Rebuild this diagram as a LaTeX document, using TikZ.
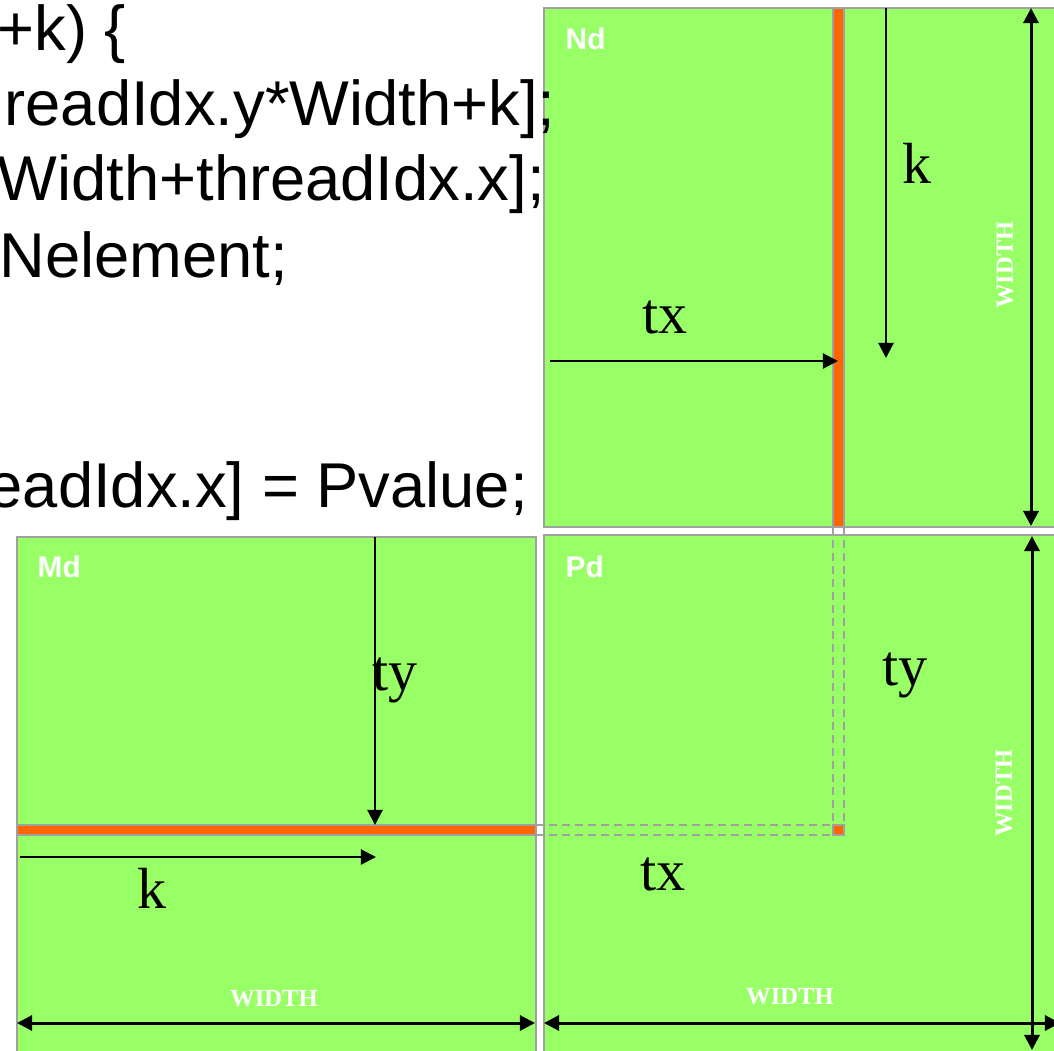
\documentclass[tikz,border=0pt]{standalone}
\usepackage{fontspec}
\setmainfont{Liberation Serif}
\setsansfont{Liberation Sans}
\usetikzlibrary{arrows.meta}

\definecolor{matgreen}{RGB}{153,255,102}
\definecolor{rowred}{RGB}{255,102,0}
\definecolor{edgegray}{RGB}{160,160,160}

\begin{document}
\begin{tikzpicture}
	    [x=0.01cm, y=-0.01cm,
	     mat/.style={fill=matgreen, draw=edgegray, line width=0.75pt},
	     strip/.style={fill=rowred, draw=edgegray, line width=0.75pt},
	     guide/.style={draw=edgegray, line width=0.6pt, dash pattern=on 2.3pt off 1.4pt},
	     idx/.style={-{Triangle[length=4.3pt, width=4.3pt]}, line width=0.6pt},
	     dim/.style={{Triangle[length=4.3pt, width=4.3pt]}-{Triangle[length=4.3pt, width=4.3pt]}, line width=0.85pt},
	     code/.style={font=\sffamily\fontsize{18}{18}\selectfont, anchor=base west, inner sep=0pt},
	     var/.style={font=\fontsize{16.5}{16.5}\selectfont, anchor=base, inner sep=0pt},
	     mname/.style={font=\sffamily\bfseries\fontsize{8.5}{8.5}\selectfont, text=white, anchor=base west, inner sep=0pt},
	     wlabel/.style={font=\bfseries\fontsize{7}{7}\selectfont, text=white, inner sep=0pt}]
	    \useasboundingbox (0,0) rectangle (1054,1051);
	    % matrices
	    \draw[mat] (544,8) rectangle (1080,527);
	    \draw[mat] (17,537) rectangle (536,1080);
	    \draw[mat] (544,535) rectangle (1080,1080);
	    \draw[strip] (833,8) rectangle (844,527);
	    \draw[strip] (17,825) rectangle (536,835);
	    \draw[guide] (833,527) -- (833,825);
	    \draw[guide] (844,527) -- (844,825);
	    \draw[guide] (536,825) -- (833,825);
	    \draw[guide] (536,835) -- (833,835);
	    \draw[strip] (833,825) rectangle (844,835);
	    % code lines
	    \node[code] (code1) at (-3,50)   {+k) \{};
	    \node[code] (code2) at (4,125)   {readIdx.y*Width+k];};
	    \node[code] (code3) at (-3,200)  {Width+threadIdx.x];};
	    \node[code] (code4) at (-1,277)  {Nelement;};
	    \node[code] (code5) at (-13,507) {eadIdx.x] = Pvalue;};
	    % names
	    \node[mname] (ndname) at (565,49)  {Nd};
	    \node[mname] (mdname) at (37,577)  {Md};
	    \node[mname] (pdname) at (565,577) {Pd};
	    % arrow ends
	    \coordinate (ndk0) at (886,8);    \coordinate (ndk1) at (886,358);
	    \coordinate (ndtx0) at (550,361); \coordinate (ndtx1) at (838,361);
	    \coordinate (ndw0) at (1031,8);   \coordinate (ndw1) at (1031,526);
	    \coordinate (mdty0) at (375,537); \coordinate (mdty1) at (375,825);
	    \coordinate (mdk0) at (20,857);   \coordinate (mdk1) at (376,857);
	    \coordinate (mdw0) at (17,1023);  \coordinate (mdw1) at (535,1023);
	    \coordinate (pdw0) at (544,1023); \coordinate (pdw1) at (1060,1023);
	    \coordinate (pdh0) at (1032,536); \coordinate (pdh1) at (1032,1050);
	    \draw[idx] (ndk0) -- (ndk1);
	    \draw[idx] (ndtx0) -- (ndtx1);
	    \draw[idx] (mdty0) -- (mdty1);
	    \draw[idx] (mdk0) -- (mdk1);
	    \draw[dim] (ndw0) -- (ndw1);
	    \draw[dim] (mdw0) -- (mdw1);
	    \draw[dim] (pdw0) -- (pdw1);
	    \draw[dim] (pdh0) -- (pdh1);
	    % index labels
	    \node[var] (ndk)  at (917,183) {k};
	    \node[var] (ndtx) at (665,333) {tx};
	    \node[var] (mdty) at (395,690) {ty};
	    \node[var] (mdk)  at (152,908) {k};
	    \node[var] (pdty) at (905,685) {ty};
	    \node[var] (pdtx) at (663,890) {tx};
	    \node[wlabel] (mdwidth) at (274,999) {WIDTH};
	    \node[wlabel] (pdwidth) at (790,997) {WIDTH};
	    \node[wlabel, rotate=90] (ndheight) at (1005,265) {WIDTH};
	    \node[wlabel, rotate=90] (pdheight) at (1004,793) {WIDTH};
\end{tikzpicture}
\end{document}
